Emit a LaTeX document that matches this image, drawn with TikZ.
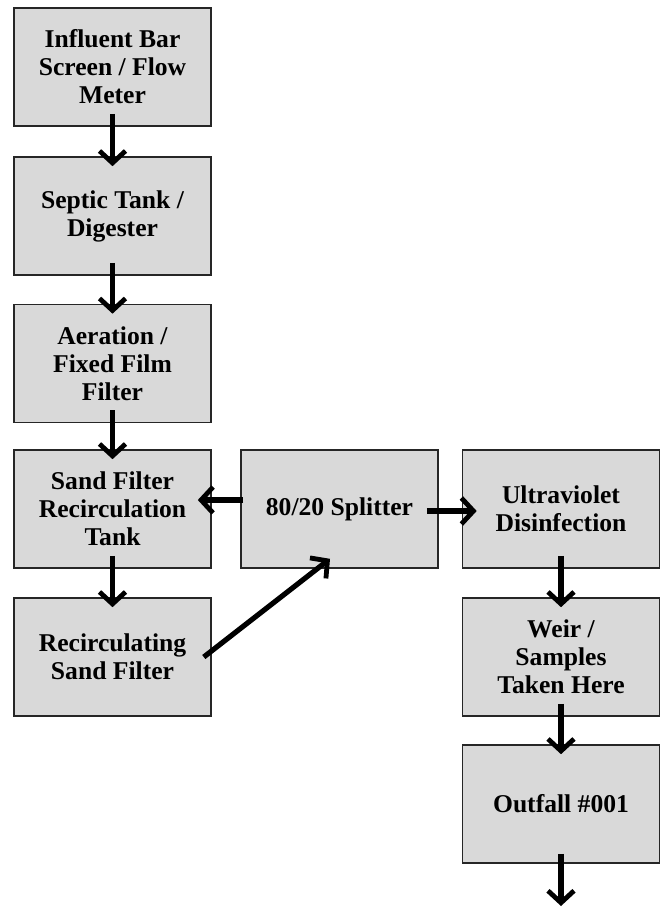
\documentclass[tikz,border=0pt]{standalone}
\usepackage{fontspec}
\setmainfont{Liberation Serif}
\usetikzlibrary{arrows.meta, calc}

\begin{document}
\begin{tikzpicture}[x=0.5pt, y=-0.5pt,
	box/.style={draw=black!85, line width=0.8pt, fill=black!15, minimum width=98.5pt, minimum height=59pt, align=center, font=\fontsize{12.8}{14}\selectfont\bfseries},
	flow/.style={line width=2.6pt, -{Straight Barb[length=6pt, width=13pt, line width=2.4pt]}}]

	% page size of the reference
	\useasboundingbox (0,0) rectangle (666,907);

	% left column
	\node[box] (inf) at (112.5,67) {Influent Bar\\Screen / Flow\\Meter};
	\node[box] (septic) at (112.5,216) {Septic Tank /\\Digester};
	\node[box] (aer) at (112.5,363.5) {Aeration /\\Fixed Film\\Filter};
	\node[box] (sft) at (112.5,509) {Sand Filter\\Recirculation\\Tank};
	\node[box] (rsf) at (112.5,657) {Recirculating\\Sand Filter};

	% middle and right column
	\node[box] (split) at (339.5,509) {80/20 Splitter};
	\node[box] (uv) at (561,509) {Ultraviolet\\Disinfection};
	\node[box] (weir) at (561,657) {Weir /\\Samples\\Taken Here};
	\node[box] (outfall) at (561,804) {Outfall \#001};
	\coordinate (out) at (561,906);

	% downward flow
	\foreach \a/\b in {inf/septic, septic/aer, aer/sft, sft/rsf, uv/weir, weir/outfall}
		\draw[flow, shorten <=-6.5pt, shorten >=-5pt] (\a.south) -- (\b.north);
	\draw[flow, shorten <=-5pt] (outfall.south) -- (out);

	% splitter branches
	\draw[flow, shorten <=-1.5pt, shorten >=-7pt] ([yshift=4.5pt]split.west) -- ([yshift=4.5pt]sft.east);
	\draw[flow, shorten <=-6pt, shorten >=-7.5pt] ([yshift=-1pt]split.east) -- ([yshift=-1pt]uv.west);
	\draw[flow] ([xshift=-4pt]rsf.east) -- ([xshift=-4.75pt, yshift=5pt]split.south);

\end{tikzpicture}
\end{document}
